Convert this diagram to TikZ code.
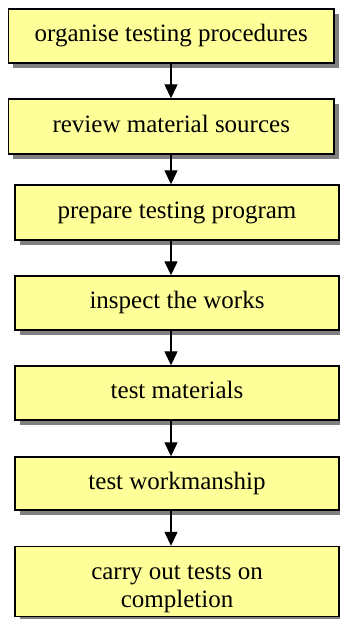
\documentclass[tikz,border=0pt]{standalone}
\usepackage{fontspec}
\setmainfont{Liberation Serif}
\usetikzlibrary{arrows.meta,shadows}
\definecolor{boxfill}{HTML}{FFFF99}
\definecolor{shadowgray}{HTML}{808080}
\begin{document}
\begin{tikzpicture}[x=1pt,y=-1pt,
  boxfont/.style={font=\fontsize{25}{28}\selectfont},
  stepbox/.style={draw=black, line width=1.4pt, fill=boxfill, rectangle,
    inner sep=0pt, boxfont, align=center, text height=17pt, text depth=6pt,
    drop shadow={shadow xshift=4.5pt, shadow yshift=-4.5pt, fill=shadowgray, opacity=1}},
  arr/.style={line width=1.3pt, -{Triangle[width=13pt,length=14pt]}}]
\useasboundingbox (0,0) rectangle (340,619);
\node[stepbox, minimum width=325.5pt, minimum height=54pt] (b1) at (171.25,36) {organise testing procedures};
\node[stepbox, minimum width=325.5pt, minimum height=55pt] (b2) at (171.25,126.5) {review material sources};
\node[stepbox, minimum width=324pt, minimum height=55pt] (b3) at (177,212.5) {prepare testing program};
\node[stepbox, minimum width=324pt, minimum height=54pt] (b4) at (177,303) {inspect the works};
\node[stepbox, minimum width=324pt, minimum height=54pt] (b5) at (177,393) {test materials};
\node[stepbox, minimum width=324pt, minimum height=53pt] (b6) at (177,483.5) {test workmanship};
\node[stepbox, minimum width=324pt, minimum height=70pt,
  label={[boxfont, align=center, inner sep=0pt, yshift=-8pt]center:carry out tests on\\completion}] (b7) at (177,581.5) {};
\coordinate (ax) at (171,0);
\draw[arr] (b1.south -| ax) -- (b2.north -| ax);
\draw[arr] (b2.south -| ax) -- (b3.north -| ax);
\draw[arr] (b3.south -| ax) -- (b4.north -| ax);
\draw[arr] (b4.south -| ax) -- (b5.north -| ax);
\draw[arr] (b5.south -| ax) -- (b6.north -| ax);
\draw[arr] (b6.south -| ax) -- (b7.north -| ax);
\end{tikzpicture}
\end{document}
